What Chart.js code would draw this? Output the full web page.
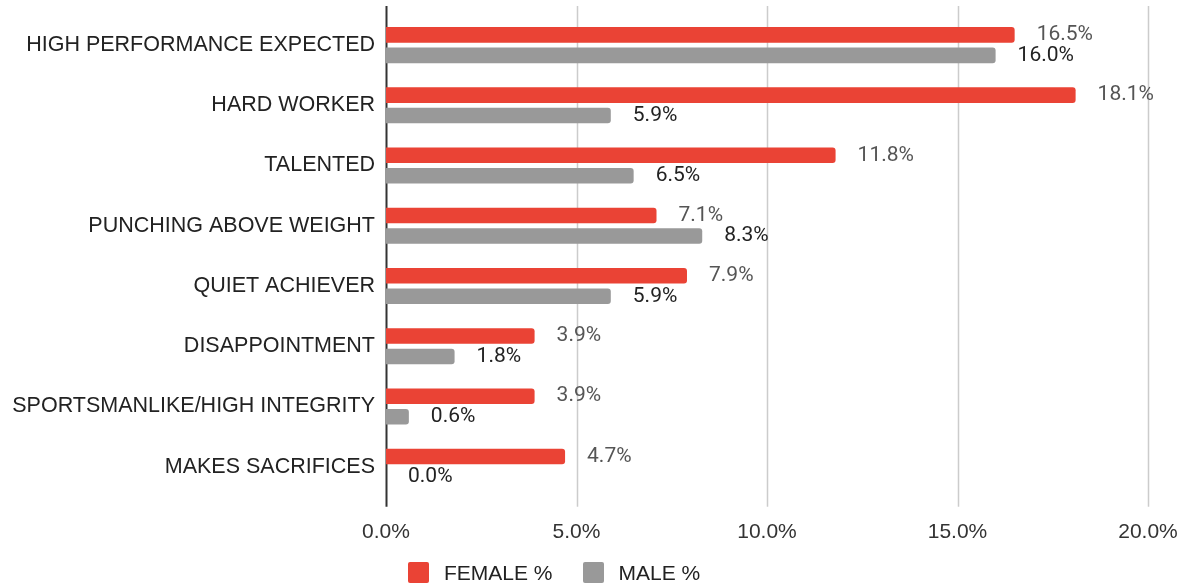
<!DOCTYPE html>
<html>
<head>
<meta charset="utf-8">
<script src="https://cdn.jsdelivr.net/npm/chart.js@4.4.0/dist/chart.umd.min.js"></script>
<style>
	html, body { margin: 0; padding: 0; background: #fff; }
	#wrap { position: relative; width: 1177px; height: 586px; }
	#legend { position: absolute; left: 408px; top: 561px; font: 21px "Liberation Sans", Arial, sans-serif; color: #222; white-space: nowrap; }
	#legend span.box { display: inline-block; width: 21px; height: 21px; border-radius: 2px; vertical-align: -3px; }
	#legend span.txt { display: inline-block; margin-left: 15px; margin-right: 30px; }
</style>
</head>
<body>
<div id="wrap">
	<canvas id="myChart" width="1177" height="586"></canvas>
	<div id="legend"></div>
</div>
<script>
// datos del grafico
const categorias = [
	"HIGH PERFORMANCE EXPECTED",
	"HARD WORKER",
	"TALENTED",
	"PUNCHING ABOVE WEIGHT",
	"QUIET ACHIEVER",
	"DISAPPOINTMENT",
	"SPORTSMANLIKE/HIGH INTEGRITY",
	"MAKES SACRIFICES"
];
const data_female = [16.5, 18.1, 11.8, 7.1, 7.9, 3.9, 3.9, 4.7];
const data_male = [16.0, 5.9, 6.5, 8.3, 5.9, 1.8, 0.6, 0.0];
const ticks_x = [0, 5, 10, 15, 20];

const rojo = "#ea4335";
const gris = "#999999";

// lineas de grilla (un poco mas largas que el area, como en el original)
const gridPlugin = {
	id: "gridExtendido",
	beforeDatasetsDraw(chart) {
		const ctx = chart.ctx;
		const area = chart.chartArea;
		const x = chart.scales.x;
		ctx.save();
		ticks_x.forEach(function (t) {
			const px = Math.round(x.getPixelForValue(t)) + 0.5;
			ctx.beginPath();
			if (t === 0) {
				ctx.strokeStyle = "#333";
				ctx.lineWidth = 2;
			} else {
				ctx.strokeStyle = "#cccccc";
				ctx.lineWidth = 1.5;
			}
			ctx.moveTo(px, area.top - 9);
			ctx.lineTo(px, area.bottom + 10);
			ctx.stroke();
		});
		ctx.restore();
	}
};

// etiquetas con el valor al final de cada barra
const etiquetasPlugin = {
	id: "etiquetas",
	afterDatasetsDraw(chart) {
		const ctx = chart.ctx;
		ctx.save();
		ctx.font = "21px Roboto";
		ctx.textBaseline = "middle";
		ctx.textAlign = "left";
		chart.data.datasets.forEach(function (ds, i) {
			const meta = chart.getDatasetMeta(i);
			ctx.fillStyle = i === 0 ? "#555555" : "#222222";
			meta.data.forEach(function (bar, j) {
				ctx.fillText(ds.data[j].toFixed(1) + "%", bar.x + 22, bar.y);
			});
		});
		ctx.restore();
	}
};

const ctx1 = document.getElementById("myChart").getContext("2d");

let myChart = new Chart(ctx1, {
	type: "bar",
	data: {
		labels: categorias,
		datasets: [
			{
				label: "FEMALE %",
				data: data_female,
				backgroundColor: rojo,
				borderRadius: 3,
				borderSkipped: "start",
				categoryPercentage: 0.68,
				barPercentage: 0.76,
			},
			{
				label: "MALE %",
				data: data_male,
				backgroundColor: gris,
				borderRadius: 3,
				borderSkipped: "start",
				categoryPercentage: 0.68,
				barPercentage: 0.76,
			}
		],
	},
	options: {
		indexAxis: "y",
		responsive: false,
		animation: false,
		layout: {
			padding: { top: 15, right: 29, bottom: 18, left: 0 }
		},
		scales: {
			x: {
				min: 0,
				max: 20,
				afterBuildTicks: function (s) {
					s.ticks = ticks_x.map(function (v) { return { value: v }; });
				},
				afterFit: function (s) { s.paddingLeft = 0; s.paddingRight = 0; },
				grid: { display: false, drawTicks: false },
				border: { display: false },
				ticks: {
					color: "#333",
					padding: 23,
					font: { family: "'Liberation Sans', Arial", size: 21 },
					callback: function (v) { return v.toFixed(1) + "%"; }
				}
			},
			y: {
				afterFit: function (s) { s.width = 386; s.paddingTop = 0; s.paddingBottom = 0; },
				grid: { display: false, drawTicks: false },
				border: { display: false },
				ticks: {
					color: "#222",
					padding: 11,
					font: { family: "'Liberation Sans', Arial", size: 21.5 }
				}
			}
		},
		plugins: {
			legend: { display: false },
			tooltip: { enabled: false }
		}
	},
	plugins: [gridPlugin, etiquetasPlugin]
});

// leyenda
const leyenda = document.getElementById("legend");
myChart.data.datasets.forEach(function (ds) {
	leyenda.innerHTML += '<span class="box" style="background:' + ds.backgroundColor + '"></span><span class="txt">' + ds.label + '</span>';
});
</script>
</body>
</html>
